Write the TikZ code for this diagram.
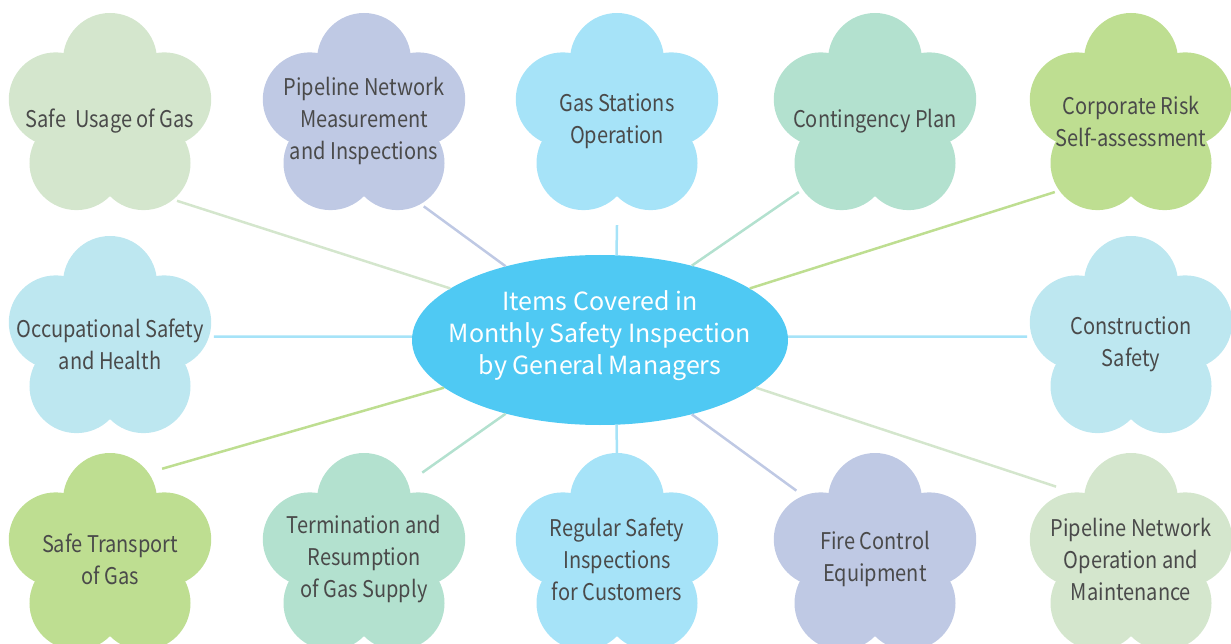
\documentclass[tikz,border=0pt]{standalone}
\usepackage{fontspec}
\setmainfont{Noto Sans CJK SC}
\newfontfamily\petalfont[FakeStretch=0.87]{Noto Sans CJK SC}
\usepackage{tikz}
\usetikzlibrary{shapes}

\definecolor{sage}{HTML}{D4E6CD}
\definecolor{lavender}{HTML}{BFC9E4}
\definecolor{sky}{HTML}{A6E3F8}
\definecolor{mint}{HTML}{B3E1CF}
\definecolor{leaf}{HTML}{BEDE91}
\definecolor{paleblue}{HTML}{BDE7F0}
\definecolor{hubblue}{HTML}{4FC9F3}
\definecolor{inkgrey}{HTML}{4A4A4A}

\tikzset{
  flower/.style={shape=circle, minimum size=208pt, inner sep=0pt, align=center, text=inkgrey, font=\petalfont\fontsize{23}{32}\selectfont},
  hub/.style={shape=ellipse, fill=hubblue, minimum width=376pt, minimum height=170pt, inner sep=0pt},
  hubtext/.style={text=white, align=center, font=\fontsize{25}{32}\selectfont},
  spoke/.style={line width=2.5pt}
}

% five petals round a filled centre
\newcommand{\petals}[2]{%
  \fill[#2] #1 circle (57);
  \foreach \a in {270,342,54,126,198}
    \fill[#2] #1 ++(\a:57) circle (47);
}

\begin{document}
\begin{tikzpicture}[x=1pt,y=-1pt]

\clip (0,0) rectangle (1231,644);

\petals{(110,117)}{sage}
\petals{(364,117)}{lavender}
\petals{(617,117)}{sky}
\petals{(875,117)}{mint}
\petals{(1131,117)}{leaf}
\petals{(110,340)}{paleblue}
\petals{(1131,340)}{paleblue}
\petals{(110,557)}{leaf}
\petals{(364,557)}{mint}
\petals{(617,557)}{sky}
\petals{(875,557)}{lavender}
\petals{(1131,557)}{sage}

\node (usage) at (110,121) [flower]{Safe\ \ Usage of Gas};
\node (measure) at (364,121) [flower]{Pipeline Network\\Measurement\\and Inspections};
\node (stations) at (617,121) [flower]{Gas Stations\\Operation};
\node (contingency) at (875,121) [flower]{Contingency Plan};
\node (corporate) at (1131,121) [flower]{Corporate Risk\\Self-assessment};
\node (occupational) at (110,344) [flower]{Occupational Safety\\and Health};
\node (construction) at (1131,344) [flower]{Construction\\Safety};
\node (transport) at (110,559) [flower]{Safe Transport\\of Gas};
\node (termination) at (364,559) [flower]{Termination and\\Resumption\\of Gas Supply};
\node (regular) at (617,559) [flower]{Regular Safety\\Inspections\\for Customers};
\node (fire) at (875,559) [flower]{Fire Control\\Equipment};
\node (pipeop) at (1131,559) [flower]{Pipeline Network\\Operation and\\Maintenance};

\node (hub) at (600,340) [hub, label={[hubtext,yshift=4pt]center:{Items Covered in\\Monthly Safety Inspection\\by General Managers}}]{};

\draw [spoke, sage] (usage.-50) -- (hub.161);
\draw [spoke, lavender] (measure.-55) -- (hub.142);
\draw [spoke, sky] (stations.south) -- (hub.79);
\draw [spoke, mint] (contingency.223) -- (hub.39);
\draw [spoke, leaf] (corporate.223) -- (hub.19);
\draw [spoke, sky] (construction.176) -- (hub.1);

\draw [spoke, sage] (pipeop.136) -- (hub.-17);
\draw [spoke, lavender] (fire.139) -- (hub.-39);
\draw [spoke, sky] (regular.north) -- (hub.-79);
\draw [spoke, mint] (termination.56) -- (hub.-142);
\draw [spoke, leaf] (transport.60) -- (hub.-163);
\draw [spoke, sky] (occupational.4) -- (hub.179);

\end{tikzpicture}
\end{document}
